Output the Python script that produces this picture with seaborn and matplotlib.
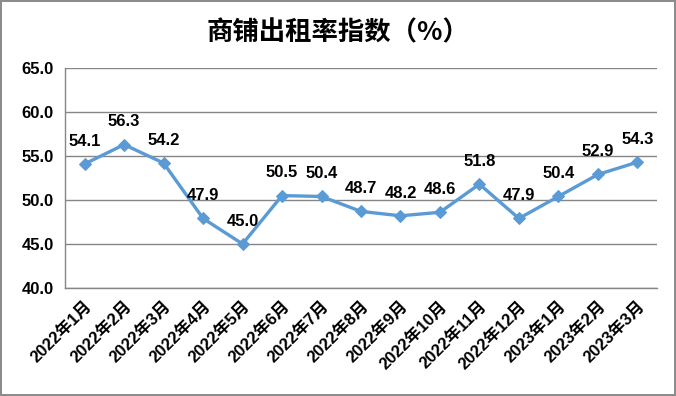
import pandas as pd
import matplotlib.pyplot as plt
import seaborn as sns

months = ["2022年1月", "2022年2月", "2022年3月", "2022年4月", "2022年5月",
          "2022年6月", "2022年7月", "2022年8月", "2022年9月", "2022年10月",
          "2022年11月", "2022年12月", "2023年1月", "2023年2月", "2023年3月"]
rates = [54.1, 56.3, 54.2, 47.9, 45.0, 50.5, 50.4, 48.7, 48.2, 48.6,
         51.8, 47.9, 50.4, 52.9, 54.3]
y_ticks = [40.0, 45.0, 50.0, 55.0, 60.0, 65.0]

df = pd.DataFrame({"month": months, "rate": rates})
df["pos"] = range(len(df))

sns.set_style("white")
plt.rcParams['font.family'] = ['Liberation Sans', 'Noto Sans CJK SC']

fig, ax = plt.subplots(figsize=(6.76, 3.96), dpi=100)
fig.subplots_adjust(left=0.096, right=0.972, top=0.828, bottom=0.273)
fig.patch.set_edgecolor('#8c8c8c')
fig.patch.set_linewidth(1.5)

sns.lineplot(data=df, x="pos", y="rate", ax=ax, color="#5B9BD5", linewidth=2.4,
             marker="D", markersize=6, markeredgecolor="#5B9BD5")

for x, y in zip(df["pos"], df["rate"]):
    ax.annotate(f"{y:.1f}", (x, y), xytext=(0, 11), textcoords="offset points",
                ha="center", va="bottom", fontsize=12, fontweight="bold",
                color="black")

ax.set_xlim(-0.5, len(months) - 0.5)
ax.set_ylim(40, 65)
ax.set_yticks(y_ticks)
ax.set_yticklabels([f"{v:.1f}" for v in y_ticks], fontsize=12, fontweight="bold",
                   color="black")
ax.set_xticks(df["pos"])
ax.set_xticklabels(months, rotation=45, ha="right", rotation_mode="anchor",
                   fontsize=12, fontweight="bold", color="black")
ax.set_xticks([i - 0.5 for i in range(len(months) + 1)], minor=True)
ax.tick_params(axis="x", which="major", length=0, pad=8)
ax.tick_params(axis="x", which="minor", length=5, color="#868686", direction="out")
ax.tick_params(axis="y", length=5, color="#868686", direction="out", pad=3)
ax.yaxis.grid(True, color="#868686", linewidth=1)
ax.set_axisbelow(True)
ax.set_xlabel("")
ax.set_ylabel("")
for side in ["top", "right"]:
    ax.spines[side].set_visible(False)
for side in ["left", "bottom"]:
    ax.spines[side].set_color("#868686")
    ax.spines[side].set_linewidth(1)

fig.text(0.5, 0.918, "商铺出租率指数（%）", ha="center", va="center",
         fontsize=19, fontweight="bold", color="black",
         family=['Noto Sans CJK SC', 'DejaVu Sans'])

fig.savefig("out.png", dpi=100, edgecolor=fig.get_edgecolor())
